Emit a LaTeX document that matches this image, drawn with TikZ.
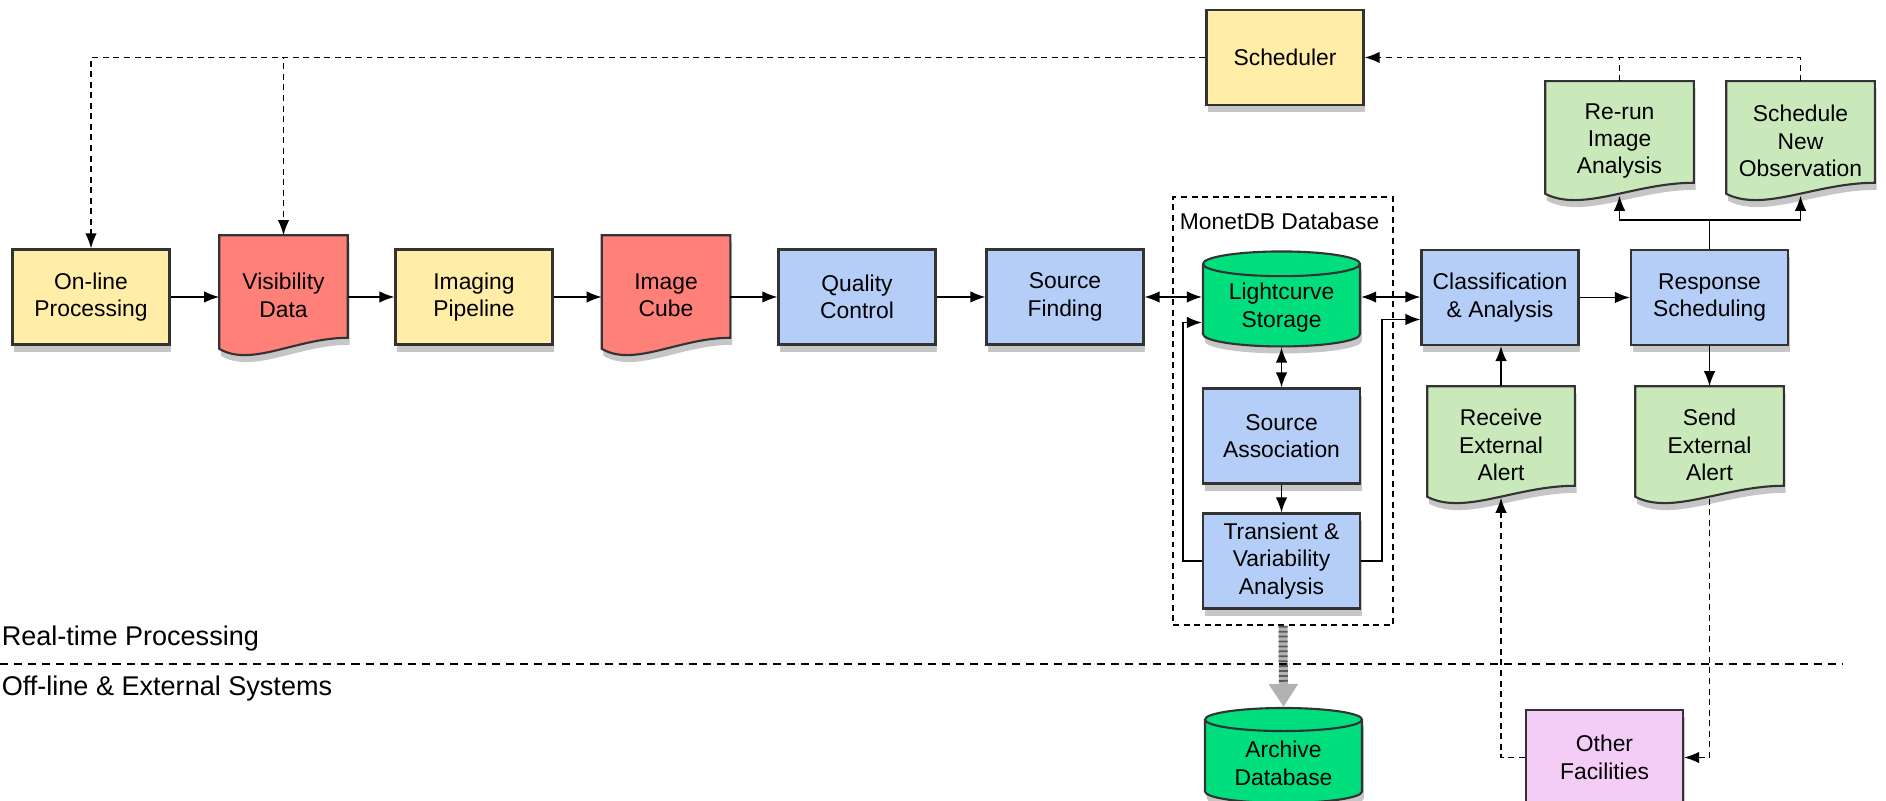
\documentclass[tikz,border=0pt]{standalone}
\usepackage{fontspec}
\setsansfont{Liberation Sans}
\usetikzlibrary{arrows.meta, shapes.geometric, shadows, calc, backgrounds}

\definecolor{procyellow}{HTML}{FFEDA8}
\definecolor{datared}{HTML}{FF8078}
\definecolor{stepblue}{HTML}{B5CEF7}
\definecolor{alertgreen}{HTML}{C9E9BA}
\definecolor{dbgreen}{HTML}{00DE7D}
\definecolor{extpink}{HTML}{F3CDF6}
\definecolor{edgegray}{HTML}{333333}

\begin{document}
\begin{tikzpicture}[line width=0.45pt, >={Latex[length=4.3pt,width=3.3pt]},
    font=\sffamily\fontsize{6.5}{7.8}\selectfont,
    softshadow/.style={drop shadow={shadow xshift=0.5pt, shadow yshift=-2pt, opacity=0.45}},
    procbox/.style={draw=edgegray, line width=0.6pt, fill=#1, softshadow, align=center,
        minimum width=1.57cm, minimum height=0.95cm, inner sep=1pt},
    docsheet/.style={align=center, inner sep=1pt},
    dbcyl/.style={cylinder, shape border rotate=90, aspect=0.22, draw=edgegray,
        line width=0.6pt, fill=dbgreen, softshadow, align=center,
        minimum width=1.57cm, minimum height=0.95cm, inner sep=1pt},
    dashflow/.style={dash pattern=on 1.7pt off 1.3pt},
    regionlabel/.style={font=\sffamily\fontsize{7.7}{8.6}\selectfont, anchor=west, inner sep=0pt}]

    \useasboundingbox (0,0) rectangle (18.86,-8.01);

    % --- MonetDB frame (drawn first, behind its boxes) ---
    \node[draw, dashflow, line width=0.5pt, minimum width=2.20cm, minimum height=4.28cm] (mdb) at (12.83,-4.11) {};
    \node[anchor=north west, inner sep=0pt] (mdblabel) at ([shift={(0.07,-0.16)}]mdb.north west) {MonetDB Database};

    % --- Process boxes ---
    \foreach \nm/\x/\y/\col/\txt in {
        online/0.91/-2.97/procyellow/On-line\\Processing,
        imaging/4.74/-2.97/procyellow/Imaging\\Pipeline,
        qc/8.57/-2.97/stepblue/Quality\\Control,
        sf/10.65/-2.97/stepblue/Source\\Finding,
        sa/12.815/-4.36/stepblue/Source\\Association,
        tv/12.815/-5.61/stepblue/Transient \&\\Variability\\Analysis,
        class/15.00/-2.975/stepblue/Classification\\\& Analysis,
        resp/17.095/-2.975/stepblue/Response\\Scheduling,
        sched/12.85/-0.575/procyellow/Scheduler,
        other/16.045/-7.575/extpink/Other\\Facilities
    } {
        \node[procbox=\col] (\nm) at (\x,\y) {\txt};
    }

    % --- Document sheets (text now, wavy sheet on the background below) ---
    \foreach \nm/\x/\y/\w/\h/\txt in {
        vis/2.835/-2.955/1.27/1.19/Visibility\\Data,
        cube/6.66/-2.955/1.27/1.19/Image\\Cube,
        rerun/16.195/-1.41/1.47/1.18/Re-run\\Image\\Analysis,
        newobs/18.005/-1.41/1.47/1.18/Schedule\\New\\Observation,
        recv/15.01/-4.45/1.46/1.16/Receive\\External\\Alert,
        send/17.095/-4.45/1.47/1.16/Send\\External\\Alert
    } {
        \node[docsheet, minimum width=\w cm, minimum height=\h cm] (\nm) at (\x,\y) {\txt};
    }

    \begin{scope}[on background layer]
        \foreach \nm/\col in {vis/datared, cube/datared, rerun/alertgreen,
                              newobs/alertgreen, recv/alertgreen, send/alertgreen} {
            \draw[draw=edgegray, line width=0.6pt, fill=\col, softshadow]
                (\nm.north west) -- (\nm.north east) -- ($(\nm.south east)+(0,0.18)$)
                .. controls ($(\nm.south east)!0.4!(\nm.south west)+(0,0.18)$)
                and ($(\nm.south east)!0.75!(\nm.south west)+(0,-0.12)$)
                .. ($(\nm.south west)+(0,0.07)$) -- cycle;
        }
    \end{scope}

    % --- Databases ---
    \node[dbcyl] (lc) at (12.815,-3.075) {Lightcurve\\Storage};
    \node[dbcyl] (arch) at (12.835,-7.635) {Archive\\Database};

    % --- Main pipeline ---
    \draw[->] (online) -- (online -| vis.west);
    \draw[->] (vis.east |- imaging) -- (imaging);
    \draw[->] (imaging) -- (imaging -| cube.west);
    \draw[->] (cube.east |- qc) -- (qc);
    \draw[->] (qc) -- (sf);
    \draw[<->] (sf) -- (sf -| lc.west);
    \draw[<->] (sf -| lc.east) -- (sf -| class.west);
    \draw[->] (class) -- (resp);

    % --- Inside the database ---
    \draw[<->] (lc) -- (sa);
    \draw[->] (sa) -- (tv);
    \draw[->] (tv.west) -- ++(-0.19,0) |- ([yshift=-0.15cm]lc.west);
    \draw[->] (tv.east) -- ++(0.21,0) |- ([yshift=-0.22cm]class.west);

    % --- Alerts and follow-up ---
    \draw[->] (recv.north) -- (recv.north |- class.south);
    \draw[->] (resp) -- (resp |- send.north);
    \coordinate (br) at (17.095,-2.20);
    \draw (resp) -- (br);
    \draw[->] (br) -| ([yshift=0.05cm]rerun.south);
    \draw[->] (br) -| ([yshift=0.05cm]newobs.south);

    % --- Scheduler feedback (dashed) ---
    \draw[dashflow, ->] (newobs.north) |- (sched.east);
    \draw[dashflow] (rerun.north) -- (rerun.north |- sched.east);
    \draw[dashflow, ->] (sched.west) -| (online.north);
    \draw[dashflow, ->] (sched.west) -| (vis.north);

    % --- External facilities (dashed) ---
    \draw[dashflow, ->] ([yshift=0.05cm]send.south) |- (other.east);
    \draw[dashflow, ->] (other.west) -| ([yshift=0.06cm]recv.south);

    % --- Archive link (striped) ---
    \draw[line width=0.09cm, gray!60, -{Triangle[length=0.23cm, width=0.28cm]}] (mdb.south) -- (arch.north);
    \draw[line width=0.09cm, black!65, dash pattern=on 0.5pt off 0.9pt, shorten >=0.23cm] (mdb.south) -- (arch.north);

    % --- Real-time / off-line separator ---
    \draw[dash pattern=on 2.3pt off 1.7pt, line width=0.5pt] (0,-6.64) -- (18.42,-6.64);
    \node[regionlabel] (rtlabel) at (0.01,-6.39) {Real-time Processing};
    \node[regionlabel] (oflabel) at (0.01,-6.89) {Off-line \& External Systems};

\end{tikzpicture}
\end{document}
